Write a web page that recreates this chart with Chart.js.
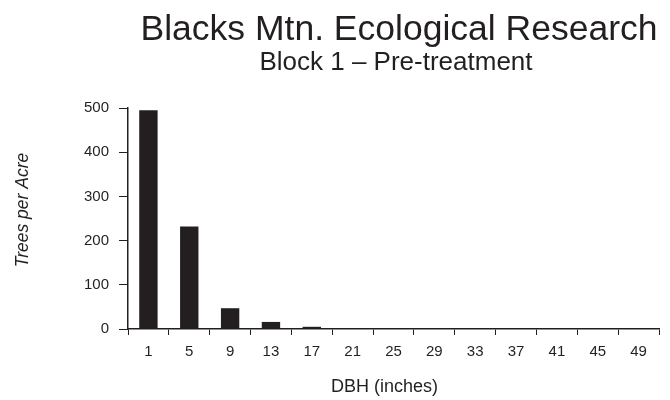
<!DOCTYPE html>
<html>
<head>
<meta charset="utf-8">
<script src="https://cdn.jsdelivr.net/npm/chart.js@4"></script>
<style>
  html, body { margin: 0; padding: 0; background: #ffffff; }
  #wrap { width: 670px; height: 400px; position: relative; }
</style>
</head>
<body>
<div id="wrap"><canvas id="c" width="670" height="400"></canvas></div>
<script>
const titleText = "Blacks Mtn. Ecological Research";
const subtitleText = "Block 1 \u2013 Pre-treatment";
const xAxisTitle = "DBH (inches)";
const yAxisTitle = "Trees per Acre";
const categories = ["1", "5", "9", "13", "17", "21", "25", "29", "33", "37", "41", "45", "49"];
const treesPerAcre = [495, 232, 47, 16, 5, 0, 0, 0, 0, 0, 0, 0, 0];
const yTicks = [0, 100, 200, 300, 400, 500];

const ink = "#231f20";
const fontFamily = "'Liberation Sans', Arial, Helvetica, sans-serif";

const textPlugin = {
  id: "texts",
  afterDraw(chart) {
    const ctx = chart.ctx;
    ctx.save();
    ctx.fillStyle = ink;
    ctx.textAlign = "center";
    ctx.textBaseline = "alphabetic";
    ctx.font = "35.5px " + fontFamily;
    ctx.fillText(titleText, 399, 40);
    ctx.font = "26px " + fontFamily;
    ctx.fillText(subtitleText, 396, 70);
    ctx.font = "18px " + fontFamily;
    ctx.fillText(xAxisTitle, 384.5, 392);
    ctx.translate(28, 210);
    ctx.rotate(-Math.PI / 2);
    ctx.font = "italic 17.5px " + fontFamily;
    ctx.fillText(yAxisTitle, 0, 0);
    ctx.restore();
  }
};

new Chart(document.getElementById("c"), {
  type: "bar",
  data: {
    labels: categories,
    datasets: [{
      label: yAxisTitle,
      data: treesPerAcre,
      backgroundColor: ink,
      borderWidth: 0,
      barPercentage: 0.45,
      categoryPercentage: 1.0
    }]
  },
  options: {
    responsive: false,
    animation: false,
    devicePixelRatio: 1,
    layout: { padding: { top: 108, right: 11, bottom: 0, left: 0 } },
    plugins: {
      legend: { display: false },
      tooltip: { enabled: false },
      title: { display: false }
    },
    scales: {
      x: {
        offset: true,
        grid: {
          offset: true,
          drawOnChartArea: false,
          drawTicks: true,
          tickLength: 6,
          color: ink,
          lineWidth: 1
        },
        border: { display: true, color: ink, width: 1.5 },
        ticks: {
          color: ink,
          font: { family: fontFamily, size: 15 },
          padding: 8,
          maxRotation: 0,
          autoSkip: false
        },
        afterFit(scale) { scale.height = 71; }
      },
      y: {
        min: 0,
        max: 500,
        afterBuildTicks(scale) { scale.ticks = yTicks.map(v => ({ value: v })); },
        grid: {
          drawOnChartArea: false,
          drawTicks: true,
          tickLength: 9,
          color: ink,
          lineWidth: 1
        },
        border: { display: true, color: ink, width: 1.5 },
        ticks: {
          color: ink,
          font: { family: fontFamily, size: 15 },
          padding: 10
        },
        afterFit(scale) { scale.width = 128; }
      }
    }
  },
  plugins: [textPlugin]
});
</script>
</body>
</html>
